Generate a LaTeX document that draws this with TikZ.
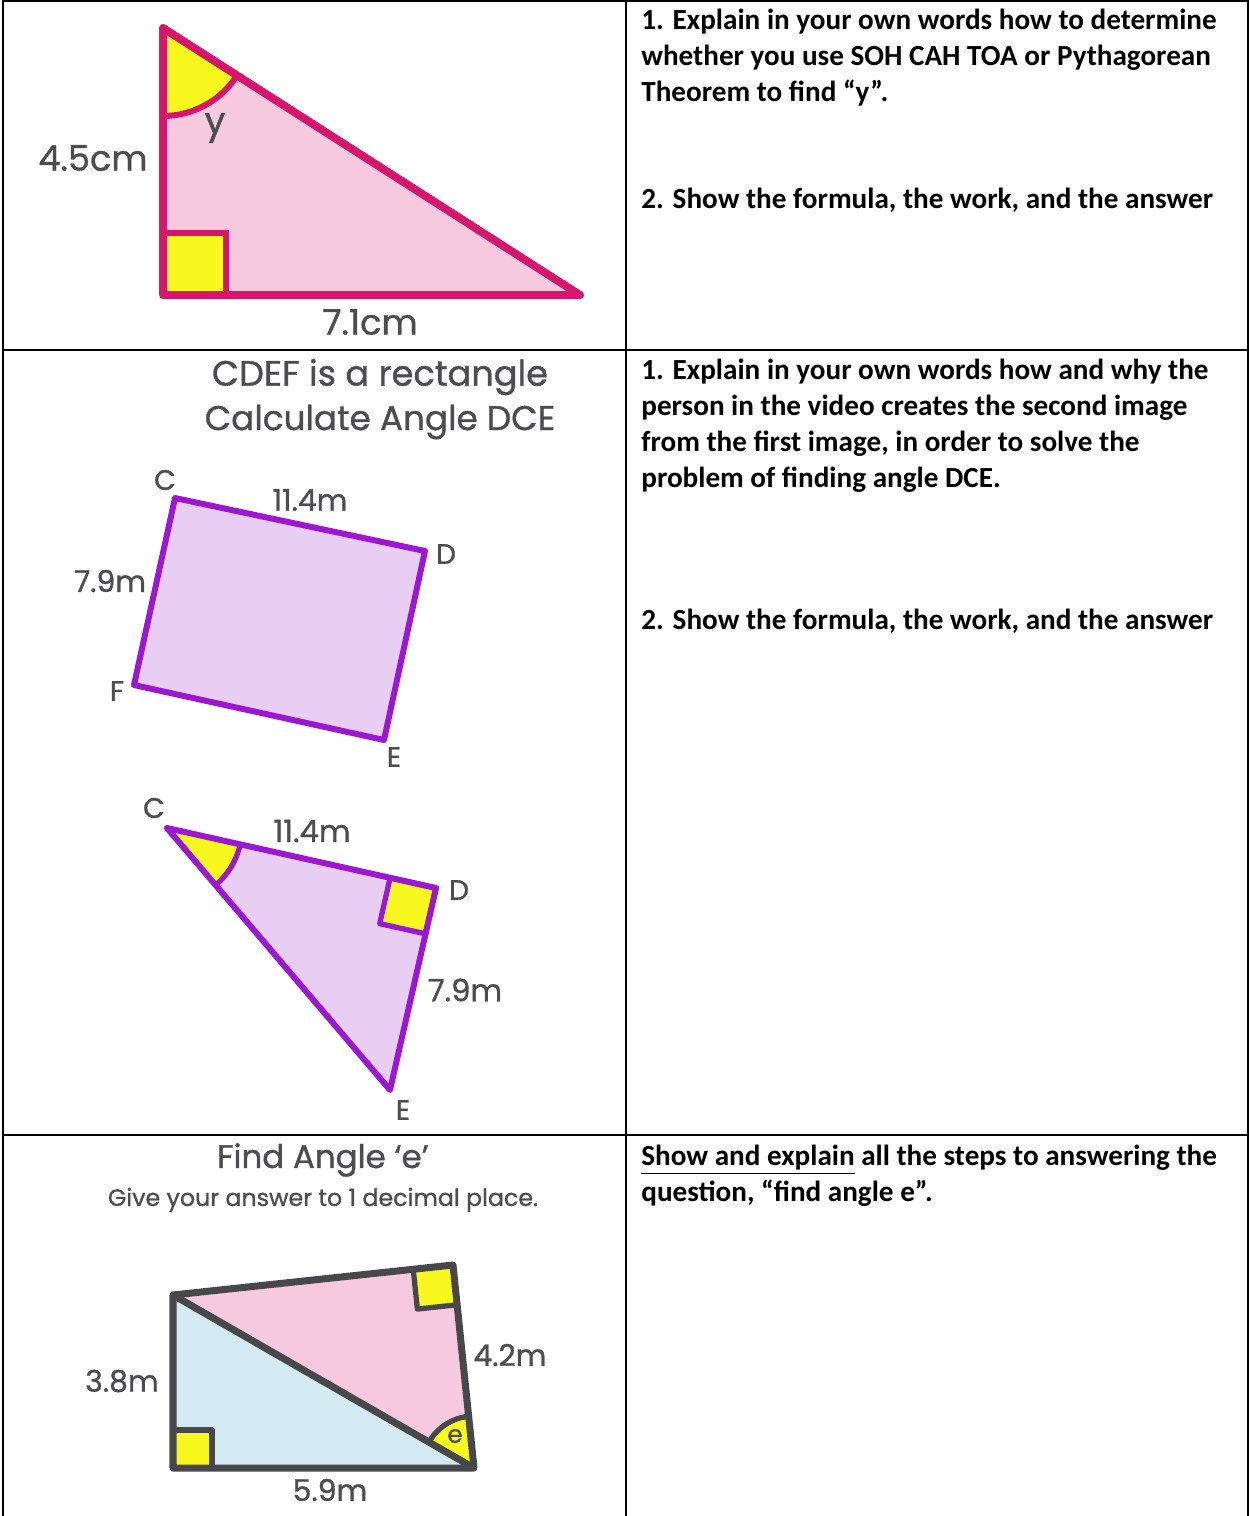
\documentclass[tikz,border=0pt]{standalone}
\usepackage{fontspec}
\setmainfont{Carlito}
\newfontfamily\figfont[FakeBold=1]{Poppins}
\usetikzlibrary{positioning,calc,angles}
\definecolor{magline}{HTML}{D6156C}
\definecolor{pinkfill}{HTML}{F6C9DF}
\definecolor{markyellow}{HTML}{F8F81E}
\definecolor{purpline}{HTML}{9C17D2}
\definecolor{lilacfill}{HTML}{E9CEF3}
\definecolor{darkline}{HTML}{48484B}
\definecolor{bluefill}{HTML}{D3EAF3}
\definecolor{labgray}{HTML}{4D4D4F}

\begin{document}
\begin{tikzpicture}[
  x=0.02cm, y=-0.02cm,
  figtext/.style={font=\figfont\fontsize{#1}{#1}\selectfont,text=labgray,inner sep=0pt},
  qtext/.style={font=\bfseries\fontsize{16.6}{20.5}\selectfont,anchor=north west,
                align=left,inner sep=0pt},
  grid/.style={line width=1.4pt,black},
  magedge/.style={draw=magline,line width=4.5pt,line join=round},
  puredge/.style={draw=purpline,line width=3.4pt,line join=round},
  grayedge/.style={draw=darkline,line width=4pt,line join=round},
]
\useasboundingbox (0,0) rectangle (1250,1516);

% table
\draw[grid] (3,1516) -- (3,1) -- (1248,1) -- (1248,1516);
\draw[grid] (626,1) -- (626,1516);
\draw[grid] (3,350) -- (1248,350);
\draw[grid] (3,1135) -- (1248,1135);

% questions
\node[qtext] (q1a) at (641,9) {1. Explain in your own words how to determine\\
  whether you use SOH CAH TOA or Pythagorean\\Theorem to find “y”.};
\node[qtext] (q1b) at (641,188) {2. Show the formula, the work, and the answer};
\node[qtext] (q2a) at (641,359) {1. Explain in your own words how and why the\\
  person in the video creates the second image\\
  from the first image, in order to solve the\\problem of finding angle DCE.};
\node[qtext] (q2b) at (641,609) {2. Show the formula, the work, and the answer};
\node[qtext] (q3) at (641,1145) {\underline{Show and explain} all the steps to answering the\\
  question, “find angle e”.};

% triangle y
\coordinate (ytop) at (163,28);
\coordinate (ycorner) at (163,295);
\coordinate (yend) at (580,295);
\fill[pinkfill] (ytop) -- (ycorner) -- (yend) -- cycle;
\pic[draw=magline,line width=3.4pt,fill=markyellow,angle radius=1.76cm] {angle=ycorner--ytop--yend};
\draw[magline,line width=3.4pt,fill=markyellow] (ycorner) rectangle ++(63,-62);
\draw[magedge] (ytop) -- (ycorner) -- (yend) -- cycle;
\node[figtext=21] (ylab) at (215,128) {y};
\node[figtext=20] (yside) at (93,158) {4.5cm};
\node[figtext=20] (ybase) at (370,322) {7.1cm};

% rectangle CDEF
\node[figtext=20] (rtitle) at (380,377) {CDEF is a rectangle};
\node[figtext=19.5] (rtask) at (380,422) {Calculate Angle DCE};
\coordinate (rc) at (175,498);
\coordinate (rd) at (425,551);
\coordinate (re) at (384,740);
\coordinate (rf) at (134,685);
\draw[puredge,fill=lilacfill] (rc) -- (rd) -- (re) -- (rf) -- cycle;
\node[figtext=16] (rclab) at (165,480) {C};
\node[figtext=16] (rdlab) at (446,554) {D};
\node[figtext=16] (relab) at (394,757) {E};
\node[figtext=16] (rflab) at (117,691) {F};
\node[figtext=17] (rtop) at (310,500) {11.4m};
\node[figtext=17] (rside) at (110,581) {7.9m};

% triangle CDE
\coordinate (tc) at (167,828);
\coordinate (td) at (436,888);
\coordinate (te) at (390,1090);
\fill[lilacfill] (tc) -- (td) -- (te) -- cycle;
\pic[draw=purpline,line width=3pt,fill=markyellow,angle radius=1.5cm] {angle=te--tc--td};
\coordinate (tda) at ($(td)!0.94cm!(tc)$);
\coordinate (tdb) at ($(td)!0.94cm!(te)$);
\draw[puredge,line width=3pt,fill=markyellow] (td) -- (tda) -- ($(tda)+(tdb)-(td)$) -- (tdb) -- cycle;
\draw[puredge] (tc) -- (td) -- (te) -- cycle;
\node[figtext=16] (tclab) at (154,808) {C};
\node[figtext=16] (tdlab) at (459,890) {D};
\node[figtext=16] (telab) at (403,1110) {E};
\node[figtext=17.5] (ttop) at (312,831) {11.4m};
\node[figtext=17.5] (tside) at (465,990) {7.9m};

% quadrilateral with angle e
\node[figtext=18.5] (etitle) at (323,1160) {Find Angle ‘e’};
\node[figtext=13.5] (enote) at (323,1200) {Give your answer to 1 decimal place.};
\coordinate (qa) at (173,1295);
\coordinate (qb) at (453,1265);
\coordinate (qd) at (474,1468);
\coordinate (ql) at (173,1468);
\fill[bluefill] (qa) -- (ql) -- (qd) -- cycle;
\fill[pinkfill] (qa) -- (qb) -- (qd) -- cycle;
\pic[draw=darkline,line width=3pt,fill=markyellow,angle radius=1.04cm] {angle=qb--qd--qa};
\draw[grayedge,line width=3pt,fill=markyellow] (ql) rectangle ++(39,-38);
\coordinate (qba) at ($(qb)!0.8cm!(qa)$);
\coordinate (qbb) at ($(qb)!0.8cm!(qd)$);
\draw[grayedge,line width=3pt,fill=markyellow] (qb) -- (qba) -- ($(qba)+(qbb)-(qb)$) -- (qbb) -- cycle;
\draw[grayedge] (qa) -- (qb) -- (qd) -- (ql) -- cycle;
\draw[grayedge] (qa) -- (qd);
\node[figtext=14] (elab) at (455,1436) {e};
\node[figtext=17] (eleft) at (122,1381) {3.8m};
\node[figtext=17] (eright) at (510,1355) {4.2m};
\node[figtext=17] (ebase) at (330,1490) {5.9m};
\end{tikzpicture}
\end{document}
